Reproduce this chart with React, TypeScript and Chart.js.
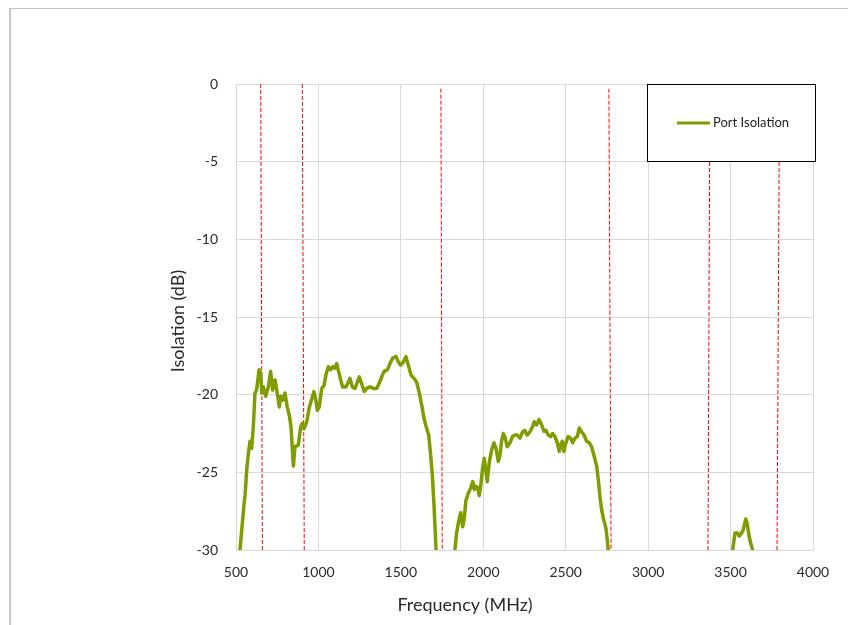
import React, { useEffect, useRef } from "react";
import { Chart, registerables } from "chart.js";

Chart.register(...registerables);

// ---- data ----
const seg1Freq = [524, 535, 549, 555, 565, 575, 585, 595, 605, 615, 625, 640, 650, 656, 666, 680, 696, 710, 722, 737, 747, 763, 771, 783, 797, 811, 823, 834, 848, 858, 878, 892, 902, 912, 929, 945, 959, 973, 985, 993, 1005, 1020, 1034, 1046, 1060, 1074, 1087, 1100, 1111, 1120, 1135, 1147, 1167, 1181, 1191, 1206, 1222, 1236, 1248, 1262, 1278, 1293, 1313, 1333, 1353, 1367, 1384, 1398, 1418, 1434, 1450, 1471, 1485, 1499, 1515, 1531, 1545, 1562, 1580, 1596, 1610, 1627, 1640, 1657, 1669, 1681, 1691, 1701, 1713, 1715];
const seg1Db = [-30, -28.7, -27.0, -26.5, -24.85, -23.8, -23.0, -23.45, -22.1, -19.9, -19.7, -18.4, -18.6, -19.9, -19.5, -20.1, -19.5, -18.5, -19.7, -19.05, -19.7, -20.8, -20.1, -20.35, -19.9, -20.8, -21.3, -22.1, -24.6, -23.35, -23.25, -22.1, -21.85, -22.2, -21.75, -20.8, -20.3, -19.8, -20.4, -21.0, -20.8, -19.6, -19.4, -18.7, -18.2, -18.4, -18.2, -18.3, -18.0, -18.4, -19.05, -19.5, -19.5, -19.2, -18.95, -19.5, -19.6, -19.2, -18.85, -19.3, -19.8, -19.6, -19.5, -19.6, -19.6, -19.3, -18.85, -18.5, -18.4, -18.0, -17.65, -17.55, -17.9, -18.1, -17.9, -17.55, -18.1, -18.75, -18.95, -19.2, -19.8, -20.7, -21.5, -22.2, -22.6, -23.9, -25.2, -27.1, -29.9, -30];

const seg2Freq = [1828, 1838, 1848, 1863, 1875, 1883, 1895, 1909, 1924, 1936, 1946, 1956, 1966, 1976, 1986, 1996, 2006, 2016, 2024, 2037, 2051, 2065, 2077, 2091, 2101, 2111, 2121, 2131, 2145, 2162, 2177, 2192, 2206, 2222, 2238, 2252, 2266, 2283, 2299, 2309, 2323, 2338, 2354, 2368, 2380, 2394, 2409, 2421, 2435, 2449, 2461, 2469, 2479, 2489, 2501, 2515, 2530, 2542, 2556, 2570, 2582, 2597, 2611, 2627, 2643, 2657, 2671, 2688, 2698, 2708, 2718, 2728, 2744, 2752, 2758];
const seg2Db = [-30, -28.9, -28.3, -27.6, -28.5, -28.1, -26.8, -26.35, -26.0, -25.6, -26.1, -25.9, -26.0, -26.5, -25.7, -24.7, -24.1, -24.95, -25.6, -24.3, -23.55, -23.1, -23.45, -24.3, -23.9, -23.0, -22.5, -22.7, -23.35, -23.1, -22.7, -22.6, -22.6, -22.8, -22.4, -22.3, -22.6, -22.4, -22.05, -21.75, -21.95, -21.6, -21.95, -22.35, -22.3, -22.6, -22.7, -22.5, -22.7, -23.1, -23.65, -23.25, -23.0, -23.65, -23.1, -22.7, -22.8, -23.1, -22.8, -22.7, -22.15, -22.4, -22.6, -23.0, -23.1, -23.35, -23.9, -24.6, -25.5, -26.6, -27.4, -27.95, -28.6, -29.35, -30];

const seg3Freq = [3513, 3521, 3527, 3541, 3553, 3567, 3577, 3592, 3601, 3612, 3622, 3634];
const seg3Db = [-30, -29.35, -28.9, -28.9, -29.1, -28.9, -28.7, -28.0, -28.3, -29.1, -29.55, -30];

// band marker lines (dashed red): top and bottom frequency of each line
const markerTopFreq = [650, 902, 1743, 2762, 3375, 3797];
const markerBottomFreq = [660, 914, 1751, 2775, 3363, 3782];
const markerTopDb = [0, 0, -0.3, -0.3, 0, 0];
const markerBottomDb = [-30, -30, -30, -30, -30, -30];

const seriesName = "Port Isolation";
const xTitle = "Frequency (MHz)";
const yTitle = "Isolation (dB)";
const xMin = 500, xMax = 4000, xStep = 500;
const yMin = -30, yMax = 0, yStep = 5;

const LINE_COLOR = "#7F9C00";
const FONT = "Lato, 'Open Sans', sans-serif";
const TEXT_COLOR = "#2b2b2b";

export default function App() {
  const canvasRef = useRef<HTMLCanvasElement | null>(null);

  useEffect(() => {
    const canvas = canvasRef.current;
    if (!canvas) return;

    const mainData: any[] = [];
    const pushSeg = (fs: number[], ds: number[]) => {
      fs.forEach((f, i) => mainData.push({ x: f, y: ds[i] }));
    };
    pushSeg(seg1Freq, seg1Db);
    mainData.push({ x: (seg1Freq[seg1Freq.length - 1] + seg2Freq[0]) / 2, y: null });
    pushSeg(seg2Freq, seg2Db);
    mainData.push({ x: (seg2Freq[seg2Freq.length - 1] + seg3Freq[0]) / 2, y: null });
    pushSeg(seg3Freq, seg3Db);

    const markerSets = markerTopFreq.map((f, i) => ({
      label: "marker" + i,
      data: [
        { x: f, y: markerTopDb[i] },
        { x: markerBottomFreq[i], y: markerBottomDb[i] },
      ],
      borderColor: "#FF0000",
      borderWidth: 1,
      borderDash: [4, 2],
      pointRadius: 0,
      showLine: true,
      fill: false,
    }));

    const overlay = {
      id: "overlay",
      afterDraw(chart: any) {
        const { ctx, chartArea } = chart;
        ctx.save();
        // legend box
        const bx = 636.5, by = 75.5, bw = 168, bh = 77;
        ctx.fillStyle = "#ffffff";
        ctx.fillRect(bx, by, bw, bh);
        ctx.strokeStyle = "#000000";
        ctx.lineWidth = 1;
        ctx.strokeRect(bx, by, bw, bh);
        ctx.strokeStyle = LINE_COLOR;
        ctx.lineWidth = 3;
        ctx.beginPath();
        ctx.moveTo(666, 114);
        ctx.lineTo(699, 114);
        ctx.stroke();
        ctx.fillStyle = "#1f1f1f";
        ctx.font = "13px " + FONT;
        ctx.textAlign = "left";
        ctx.textBaseline = "middle";
        ctx.fillText(seriesName, 702, 114);
        // axis titles
        ctx.fillStyle = TEXT_COLOR;
        ctx.font = "18px " + FONT;
        ctx.textAlign = "center";
        ctx.fillText(xTitle, 454, 596);
        ctx.translate(167, (chartArea.top + chartArea.bottom) / 2 + 4);
        ctx.rotate(-Math.PI / 2);
        ctx.fillText(yTitle, 0, 0);
        ctx.restore();
      },
    };

    const chart = new Chart(canvas, {
      type: "scatter",
      data: {
        datasets: [
          {
            label: seriesName,
            data: mainData,
            borderColor: LINE_COLOR,
            backgroundColor: LINE_COLOR,
            borderWidth: 3.5,
            pointRadius: 0,
            showLine: true,
            spanGaps: false,
            fill: false,
            borderJoinStyle: "round",
            borderCapStyle: "round",
          } as any,
          ...(markerSets as any[]),
        ],
      },
      options: {
        animation: false,
        responsive: false,
        maintainAspectRatio: false,
        layout: { padding: { left: 0, top: 75, right: 35, bottom: 0 } },
        plugins: {
          legend: { display: false },
          tooltip: { enabled: false },
        },
        scales: {
          x: {
            type: "linear",
            min: xMin,
            max: xMax,
            ticks: {
              stepSize: xStep,
              color: TEXT_COLOR,
              font: { family: FONT, size: 14 },
              padding: 14,
              maxRotation: 0,
              callback: (v: any) => String(v),
            },
            grid: { color: "#D9D9D9", lineWidth: 1, drawTicks: false },
            border: { color: "#D9D9D9" },
            afterFit: (s: any) => { s.height = 75; },
          },
          y: {
            type: "linear",
            min: yMin,
            max: yMax,
            ticks: {
              stepSize: yStep,
              color: TEXT_COLOR,
              font: { family: FONT, size: 14 },
              padding: 18,
              callback: (v: any) => String(v),
            },
            grid: { color: "#D9D9D9", lineWidth: 1, drawTicks: false },
            border: { color: "#D9D9D9" },
            afterFit: (s: any) => { s.width = 225; },
          },
        },
      },
      plugins: [overlay],
    });

    return () => chart.destroy();
  }, []);

  return (
    <div
      style={{
        position: "fixed",
        left: 9,
        top: 8,
        width: 839,
        height: 617,
        boxSizing: "border-box",
        borderLeft: "2px solid #C4C4C4",
        borderTop: "1px solid #C4C4C4",
        background: "#ffffff",
      }}
    >
      <canvas ref={canvasRef} width={837} height={616} style={{ display: "block" }} />
    </div>
  );
}
